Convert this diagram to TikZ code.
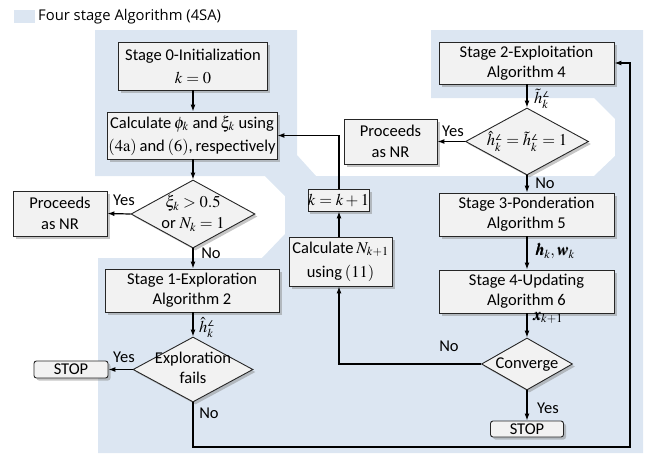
\documentclass[tikz,border=0pt]{standalone}
\usepackage{mathptmx}
\usepackage{bm}
\usepackage[no-math]{fontspec}
\setmainfont{Carlito}
\newfontfamily\legendfont{Open Sans}
\newfontfamily\angfont{DejaVu Sans}
\newcommand{\angsym}{\mbox{\fontsize{8}{8}\selectfont\angfont ∠}}
\newcommand{\zw}[1]{\makebox[0pt][c]{\begin{tabular}{@{}c@{}}#1\end{tabular}}}
\usetikzlibrary{shapes.geometric,shadows,arrows.meta,calc}
\definecolor{bgblue}{HTML}{DCE6F2}
\definecolor{boxfill}{HTML}{F2F2F2}
\begin{document}
\begin{tikzpicture}[x=1pt,y=-1pt,
  txt/.style={font=\fontsize{16.5}{20}\selectfont},
  shad/.style={drop shadow={shadow xshift=2.5pt,shadow yshift=-2.5pt,fill=black!50,opacity=0.45}},
  boxnode/.style={txt,draw=black!85,line width=0.9pt,fill=boxfill,shad,align=center,inner sep=0pt},
  dianode/.style={txt,diamond,draw=black!85,line width=0.9pt,fill=boxfill,shad,inner sep=0pt,aspect=1.8},
  stopnode/.style={boxnode,rounded corners=2.5pt},
  conn/.style={line width=1.2pt,-{Latex[length=7pt,width=5pt]}},
  lbl/.style={txt,inner sep=0pt}
]
\useasboundingbox (0,0) rectangle (648,453);
% background regions
\fill[bgblue] (95,30) -- (297,30) -- (297,155) -- (316,176) -- (594,176) -- (615,156) -- (615,119) -- (594,98) -- (431,98) -- (431,30) -- (643,30) -- (643,453) -- (98,453) -- (98,258) -- (262,258) -- (285,234) -- (285,196) -- (265,176) -- (95,176) -- cycle;
% legend
\fill[bgblue] (14,10) rectangle (35,23);
\node[anchor=west,inner sep=0pt,font=\legendfont\fontsize{14.8}{17}\selectfont] (legend) at (38,16.5) {Four stage Algorithm (4SA)};

% left column
\node[boxnode,minimum width=149pt,minimum height=48pt] (s0) at (193,66) {Stage 0-Initialization\\[3pt] $k=0$};
\node[boxnode,minimum width=170pt,minimum height=47pt] (calc) at (192,135.5) {Calculate\,$\phi_k$ and\,$\xi_k$ using\\[3pt] $(4\mathrm{a})$\,and\,$(6)$,\,respectively};
\node[dianode,minimum width=124pt,minimum height=68pt] (d1) at (193,214) {\zw{$\xi_k>0.5$\\[1pt] or $N_k=1$}};
\node[boxnode,minimum width=94pt,minimum height=45pt] (nr1) at (60,213.5) {Proceeds\\[1pt] as NR};
\node[boxnode,minimum width=174pt,minimum height=43pt] (s1) at (192,290.5) {Stage 1-Exploration\\ Algorithm 2};
\node[dianode,minimum width=120pt,minimum height=65pt] (d2) at (193,369.5) {\zw{Exploration\\ fails}};
\node[stopnode,minimum width=74pt,minimum height=17pt] (stop1) at (71,369.5) {STOP};

% middle column
\node[boxnode,minimum width=103pt,minimum height=49pt] (calcN) at (340.5,261.5) {Calculate\,$N_{k+1}$\\[4pt] using\,$(11)$};
\node[boxnode,minimum width=61pt,minimum height=22pt] (kk) at (338.5,200) {$k=k+1$};

% right column
\node[boxnode,minimum width=175pt,minimum height=42pt] (s2) at (526.5,63) {Stage 2-Exploitation\\ Algorithm 4};
\node[dianode,minimum width=123pt,minimum height=67pt] (d3) at (527,141.5) {\zw{$\hat{h}_k^{\angsym}=\tilde{h}_k^{\angsym}=1$}};
\node[boxnode,minimum width=93pt,minimum height=45pt] (nr2) at (390.5,141.5) {Proceeds\\[1pt] as NR};
\node[boxnode,minimum width=175pt,minimum height=43pt] (s3) at (526.5,214.5) {Stage 3-Ponderation\\ Algorithm 5};
\node[boxnode,minimum width=175pt,minimum height=43pt] (s4) at (526.5,291.5) {Stage 4-Updating\\ Algorithm 6};
\node[dianode,minimum width=91pt,minimum height=52pt] (d4) at (527,364) {\zw{Converge}};
\node[stopnode,minimum width=73pt,minimum height=16pt] (stop2) at (527,429) {STOP};

\coordinate (c1) at (630,447);

% connectors
\draw[conn] (s0.south) -- (calc.north -| s0.south);
\draw[conn] (calc.south -| d1.north) -- (d1.north);
\draw[conn] (d1.west) -- (nr1.east);
\draw[conn] (d1.south) -- (s1.north -| d1.south);
\draw[conn] (s1.south -| d2.north) -- (d2.north);
\draw[conn] (d2.west) -- (stop1.east);
\draw[conn] (d2.south) |- (c1) |- (s2.east);
\draw[conn] (s2.south -| d3.north) -- (d3.north);
\draw[conn] (d3.west) -- (nr2.east);
\draw[conn] (d3.south) -- (s3.north -| d3.south);
\draw[conn] (s3.south -| d3.south) -- (s4.north -| d3.south);
\draw[conn] (s4.south -| d4.north) -- (d4.north);
\draw[conn] (d4.south) -- (stop2.north);
\draw[conn] (d4.west) -| ($(calcN.south)+(-1.5,0)$);
\draw[conn] ($(calcN.north)+(-1.5,0)$) -- (kk.south -| {$(calcN.north)+(-1.5,0)$});
\draw[conn] ($(kk.north)+(0.5,0)$) |- (calc.east);

% labels
\node[lbl] (y1) at (124,200) {Yes};
\node[lbl] (n1) at (211,253) {No};
\node[lbl] (l1) at (207,328) {$\hat{h}_k^{\angsym}$};
\node[lbl] (y2) at (124,357) {Yes};
\node[lbl] (n2) at (209,413) {No};
\node[lbl] (l2) at (542,99) {$\tilde{h}_k^{\angsym}$};
\node[lbl] (y3) at (453,131) {Yes};
\node[lbl] (n3) at (545,183) {No};
\node[lbl] (l3) at (555,251) {$\bm{h}_k,\bm{w}_k$};
\node[lbl] (l4) at (548,318) {$\bm{x}_{k+1}$};
\node[lbl] (n4) at (449,346) {No};
\node[lbl] (y4) at (548,408) {Yes};
\end{tikzpicture}
\end{document}
